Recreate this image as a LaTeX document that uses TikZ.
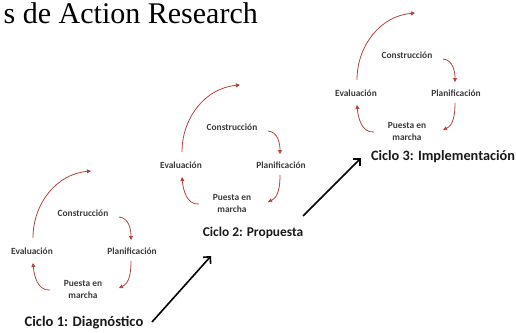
\documentclass[tikz,border=0pt]{standalone}
\usepackage{fontspec}
\setmainfont{Carlito}
\newfontfamily\titlefont{Liberation Serif}
\usetikzlibrary{arrows.meta}
\definecolor{arcred}{HTML}{B4433F}
\definecolor{labgray}{HTML}{3A3A3A}
\tikzset{
  lab/.style={font=\fontsize{9.4}{12}\selectfont\bfseries, text=labgray, inner sep=0pt, align=center},
  ciclo/.style={font=\fontsize{14}{16}\selectfont\bfseries, text=black!90, inner sep=0pt},
  arc/.style={draw=arcred, line width=0.8pt, -{Triangle[length=4pt,width=4pt]}},
  bigarrow/.style={draw=black, line width=1.6pt, -{Straight Barb[length=5pt,width=10pt,line width=1.6pt]}}
}
\newcommand{\actioncycle}[3]{%
  \begin{scope}[shift={(#2,#3)}]
    \node[lab] (#1con) at (0,0) {Construcción};
    \node[lab] (#1pla) at (49,38) {Planificación};
    \node[lab] (#1eva) at (-51,38) {Evaluación};
    \node[lab] (#1pue) at (0,76) {Puesta en\\marcha};
    \coordinate (#1a0) at (-50,25);
    \coordinate (#1a1) at (8,-42);
    \coordinate (#1b0) at (36,4);
    \coordinate (#1b1) at (48,27);
    \coordinate (#1c0) at (48,48);
    \coordinate (#1c1) at (36,75);
    \coordinate (#1d0) at (-33,77);
    \coordinate (#1d1) at (-50,50);
    \draw[arc] (#1a0) to[out=90,in=185] (#1a1);
    \draw[arc] (#1b0) to[out=-5,in=90] (#1b1);
    \draw[arc] (#1c0) to[out=-90,in=25] (#1c1);
    \draw[arc] (#1d0) to[out=185,in=-85] (#1d1);
  \end{scope}}
\begin{document}
\begin{tikzpicture}[x=1pt,y=-1pt]
  \useasboundingbox (0,0) rectangle (516,332);
  \node[font=\titlefont\fontsize{30}{33}\selectfont, inner sep=0pt, anchor=base east] (title) at (258,23) {s de Action Research};
  \actioncycle{p}{83}{213}
  \actioncycle{q}{232}{127}
  \actioncycle{r}{407}{55}
  \node[ciclo, font=\fontsize{14.6}{16}\selectfont\bfseries] (ciclo1) at (84,323) {Ciclo 1: Diagnóstico};
  \node[ciclo, font=\fontsize{13.4}{16}\selectfont\bfseries] (ciclo2) at (253,233) {Ciclo 2: Propuesta};
  \node[ciclo, font=\fontsize{14.3}{16}\selectfont\bfseries] (ciclo3) at (443,157) {Ciclo 3: Implementación};
  \coordinate (k1s) at (152,322);
  \coordinate (k1e) at (211,256);
  \coordinate (k2s) at (303,216);
  \coordinate (k2e) at (361,158);
  \draw[bigarrow] (k1s) -- (k1e);
  \draw[bigarrow] (k2s) -- (k2e);
\end{tikzpicture}
\end{document}
